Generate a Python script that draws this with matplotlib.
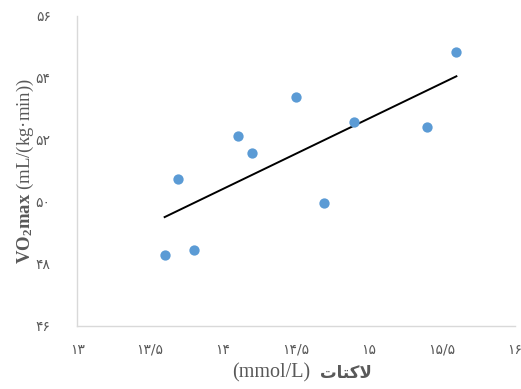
import numpy as np
import matplotlib.pyplot as plt

plt.rcParams['mathtext.fontset'] = 'custom'
plt.rcParams['mathtext.rm'] = 'Liberation Serif'
plt.rcParams['mathtext.bf'] = 'Liberation Serif:bold'

# lactate (mmol/L) and VO2max (mL/(kg.min))
lactate = [13.60, 13.80, 13.69, 14.10, 14.20, 14.50, 14.69, 14.90, 15.40, 15.60]
vo2max = [48.29, 48.44, 50.74, 52.13, 51.58, 53.39, 49.97, 52.58, 52.42, 54.84]

x_ticks = [13, 13.5, 14, 14.5, 15, 15.5, 16]
y_ticks = [46, 48, 50, 52, 54, 56]

fa_digits = str.maketrans("0123456789.", "۰۱۲۳۴۵۶۷۸۹/")


def fa(v):
    s = f"{v:g}"
    return s.translate(fa_digits)


# "لاکتات" in presentation forms, laid out left to right for drawing
lactate_word = "\uFE95\uFE8E\uFE98\uFB90\uFEFB"

fig = plt.figure(figsize=(5.21, 3.89), dpi=100)
ax = fig.add_axes([0.148, 0.162, 0.840, 0.797])

ax.scatter(lactate, vo2max, s=55, color="#5b9bd5", zorder=3, linewidths=0)

m, b = np.polyfit(lactate, vo2max, 1)
xs = np.array([min(lactate), max(lactate)])
ax.plot(xs, m * xs + b, color="black", linewidth=1.4, zorder=2)

ax.set_xlim(13, 16)
ax.set_ylim(46, 56)
ax.set_xticks(x_ticks)
ax.set_yticks(y_ticks)
ax.set_xticklabels([fa(v) for v in x_ticks], family=["DejaVu Sans"], fontsize=10, color="#595959")
ax.set_yticklabels([fa(v) for v in y_ticks], family=["DejaVu Sans"], fontsize=10, color="#595959")
ax.tick_params(length=0)
ax.tick_params(axis="y", pad=19)
ax.tick_params(axis="x", pad=12)

for side in ["top", "right"]:
    ax.spines[side].set_visible(False)
for side in ["left", "bottom"]:
    ax.spines[side].set_color("#d9d9d9")
    ax.spines[side].set_linewidth(1.0)

ax.set_ylabel(r"$\mathbf{VO_2max}$ (mL/(kg·min))", family=["Liberation Serif"],
              fontsize=13.5, color="#595959", labelpad=0)

fig.text(0.596, 0.041, "(mmol/L)", family=["Liberation Serif"], fontsize=14.5,
         color="#595959", ha="right", va="center")
fig.text(0.614, 0.041, lactate_word, family=["DejaVu Sans"], fontweight="bold",
         fontsize=12, color="#595959", ha="left", va="center")

fig.savefig("out.png", dpi=100)
